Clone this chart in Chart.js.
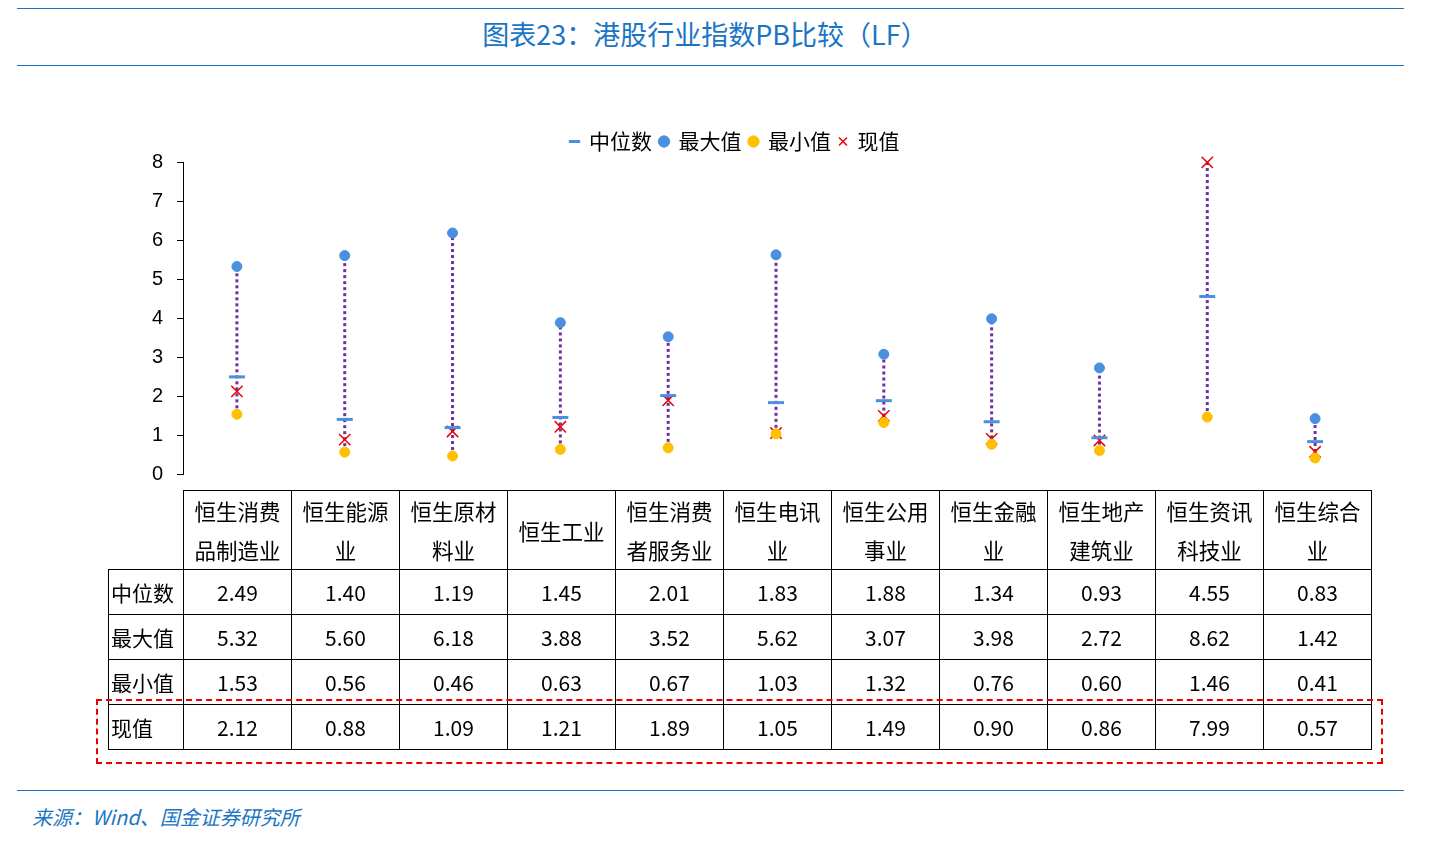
<!DOCTYPE html>
<html><head><meta charset="utf-8">
<script src="https://cdn.jsdelivr.net/npm/chart.js@4"></script>
<style>
body{margin:0;width:1440px;height:849px;background:#fff;font-family:"Noto Sans CJK SC","Noto Sans",sans-serif;position:relative;overflow:hidden}
.hl{position:absolute;left:17px;width:1387px;border-top:1.5px solid #1a75c4}
#title{position:absolute;top:14px;left:0;width:1410px;text-align:center;color:#1a75c4;font-size:27px}
#src{position:absolute;top:802px;left:32px;color:#1a75c4;font-size:20px;font-style:italic}
#wrap{position:absolute;left:100px;top:112px;width:1280px;height:388px}
table{position:absolute;left:108px;top:490px;border-collapse:collapse;font-size:21px;color:#000;table-layout:fixed;width:1263px}
td{border:1.5px solid #000;text-align:center;padding:0;height:44px;overflow:hidden;white-space:normal}
td.h{height:78px;line-height:39px;font-size:21.5px}
td.f{text-align:left;padding-left:2px}
td.e{border:none;border-right:1.5px solid #000;border-bottom:1.5px solid #000}
#box{position:absolute;left:96px;top:699px;width:1283px;height:61px;border:2.5px dashed #e00}
</style></head><body>
<div class="hl" style="top:8px"></div>
<div id="title">图表23：港股行业指数PB比较（LF）</div>
<div class="hl" style="top:65px"></div>
<div id="wrap"><canvas id="c"></canvas></div>
<table id="t"></table>
<div id="box"></div>
<div class="hl" style="top:790px"></div>
<div id="src">来源：Wind、国金证券研究所</div>
<script>
const categories=["恒生消费品制造业","恒生能源业","恒生原材料业","恒生工业","恒生消费者服务业","恒生电讯业","恒生公用事业","恒生金融业","恒生地产建筑业","恒生资讯科技业","恒生综合业"];
const medianVals=[2.49,1.40,1.19,1.45,2.01,1.83,1.88,1.34,0.93,4.55,0.83];
const maxVals=[5.32,5.60,6.18,3.88,3.52,5.62,3.07,3.98,2.72,8.62,1.42];
const minVals=[1.53,0.56,0.46,0.63,0.67,1.03,1.32,0.76,0.60,1.46,0.41];
const curVals=[2.12,0.88,1.09,1.21,1.89,1.05,1.49,0.90,0.86,7.99,0.57];
const yTicks=[0,1,2,3,4,5,6,7,8];
const rows=[["中位数",medianVals],["最大值",maxVals],["最小值",minVals],["现值",curVals]];
let h='<colgroup><col style="width:75px">'+categories.map(()=>'<col style="width:108px">').join('')+'</colgroup>';
h+='<tr><td class="f e"></td>'+categories.map(c=>'<td class="h">'+c+'</td>').join('')+'</tr>';
for(const [n,v] of rows) h+='<tr><td class="f">'+n+'</td>'+v.map(x=>'<td>'+x.toFixed(2)+'</td>').join('')+'</tr>';
document.getElementById('t').innerHTML=h;
const rangePlugin={id:'range',beforeDatasetsDraw(ch){const ctx=ch.ctx,x=ch.scales.x,y=ch.scales.y;ctx.save();ctx.strokeStyle='#7030a0';ctx.lineWidth=3;ctx.setLineDash([3,3]);
categories.forEach((c,i)=>{const px=x.getPixelForValue(i);ctx.beginPath();ctx.moveTo(px,y.getPixelForValue(minVals[i]));ctx.lineTo(px,y.getPixelForValue(Math.min(maxVals[i],y.max)));ctx.stroke();});ctx.restore();}};
const clip={top:10,bottom:10,left:10,right:10};
new Chart(document.getElementById('c'),{type:'line',plugins:[rangePlugin],
data:{labels:categories,datasets:[
{label:'中位数',data:medianVals,showLine:false,pointStyle:'line',pointRadius:8,borderColor:'#4a8fe0',backgroundColor:'#4a8fe0',pointBorderWidth:3,clip},
{label:'最大值',data:maxVals,showLine:false,pointStyle:'circle',pointRadius:5,borderColor:'#4a8fe0',backgroundColor:'#4a8fe0',clip},
{label:'最小值',data:minVals,showLine:false,pointStyle:'circle',pointRadius:5,borderColor:'#ffc000',backgroundColor:'#ffc000',clip},
{label:'现值',data:curVals,showLine:false,pointStyle:'crossRot',pointRadius:8,borderColor:'#e00',backgroundColor:'#e00',pointBorderWidth:1.5,clip}]},
options:{responsive:true,maintainAspectRatio:false,animation:false,
layout:{padding:{top:11,right:10,bottom:10,left:0}},
plugins:{tooltip:{enabled:false},legend:{labels:{usePointStyle:true,boxWidth:8,boxHeight:8,font:{size:21,family:'"Noto Sans CJK SC"'},color:'#000',padding:8},onClick:null}},
scales:{x:{display:false,offset:true},
y:{min:0,max:8,afterFit(s){s.width=83},afterBuildTicks(s){s.ticks=yTicks.map(v=>({value:v}))},
ticks:{font:{size:20,family:'"Liberation Sans"'},color:'#000',padding:14},
grid:{drawOnChartArea:false,tickLength:6,color:'#000'},border:{color:'#000',width:1}}}}});
</script></body></html>
